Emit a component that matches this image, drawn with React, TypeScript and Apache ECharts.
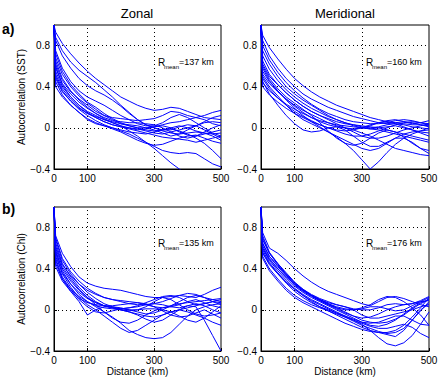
import React, { useEffect, useRef } from "react";
import * as echarts from "echarts";

const distanceKm = [0, 5, 25, 50, 75, 100, 125, 150, 175, 200, 225, 250, 275, 300, 325, 350, 375, 400, 425, 450, 475, 500];
const xTickLabels = [0, 100, 300, 500];
const yTickLabels = [-0.4, 0, 0.4, 0.8];
const panelTitles = ["Zonal", "Meridional"];
const rowLabels = ["a)", "b)"];
const yNames = ["Autocorrelation (SST)", "Autocorrelation (Chl)"];
const rMean = [137, 160, 135, 176];

const zonalSST = [
  [1, 0.93, 0.82, 0.72, 0.63, 0.55, 0.48, 0.42, 0.36, 0.30, 0.26, 0.22, 0.19, 0.17, 0.18, 0.20, 0.19, 0.16, 0.13, 0.10, 0.09, 0.08],
  [1, 0.88, 0.75, 0.64, 0.56, 0.50, 0.44, 0.37, 0.30, 0.22, 0.15, 0.08, 0.03, 0.00, -0.02, -0.02, 0.01, 0.03, 0.02, -0.02, -0.06, -0.10],
  [1, 0.72, 0.55, 0.42, 0.33, 0.25, 0.20, 0.14, 0.09, 0.05, 0.02, 0.00, -0.02, -0.03, -0.02, 0.00, 0.02, 0.00, -0.03, -0.05, -0.08, -0.12],
  [1, 0.65, 0.48, 0.36, 0.27, 0.20, 0.14, 0.09, 0.05, 0.02, 0.00, -0.02, -0.01, 0.01, 0.03, 0.05, 0.06, 0.08, 0.10, 0.12, 0.15, 0.17],
  [1, 0.60, 0.42, 0.30, 0.22, 0.15, 0.10, 0.06, 0.03, 0.01, 0.00, -0.01, -0.03, -0.05, -0.06, -0.04, -0.02, 0.00, 0.02, 0.05, 0.06, 0.05],
  [1, 0.55, 0.40, 0.30, 0.22, 0.16, 0.12, 0.08, 0.05, 0.02, -0.03, -0.08, -0.14, -0.20, -0.27, -0.34, -0.40, -0.46, -0.52, -0.58, -0.64, -0.70],
  [1, 0.50, 0.36, 0.26, 0.18, 0.12, 0.07, 0.03, 0.00, -0.02, -0.04, -0.05, -0.06, -0.04, -0.02, -0.01, -0.03, -0.06, -0.10, -0.15, -0.22, -0.30],
  [1, 0.45, 0.32, 0.22, 0.15, 0.09, 0.05, 0.02, -0.01, -0.04, -0.08, -0.12, -0.15, -0.17, -0.16, -0.13, -0.10, -0.08, -0.07, -0.10, -0.13, -0.15],
  [1, 0.40, 0.30, 0.22, 0.15, 0.08, 0.04, 0.02, 0.00, -0.03, -0.06, -0.10, -0.14, -0.18, -0.22, -0.24, -0.25, -0.24, -0.25, -0.30, -0.35, -0.38],
  [1, 0.68, 0.52, 0.40, 0.31, 0.24, 0.18, 0.12, 0.08, 0.04, 0.02, 0.00, 0.00, 0.01, 0.02, 0.00, -0.04, -0.07, -0.08, -0.06, -0.04, -0.02],
  [1, 0.62, 0.46, 0.35, 0.28, 0.22, 0.16, 0.12, 0.10, 0.09, 0.08, 0.07, 0.08, 0.09, 0.12, 0.16, 0.15, 0.12, 0.10, 0.08, 0.04, 0.02],
  [1, 0.75, 0.58, 0.45, 0.36, 0.30, 0.26, 0.22, 0.17, 0.12, 0.08, 0.04, 0.02, 0.02, 0.05, 0.10, 0.13, 0.10, 0.05, 0.00, -0.05, -0.08],
  [1, 0.58, 0.43, 0.33, 0.25, 0.19, 0.14, 0.10, 0.07, 0.06, 0.05, 0.05, 0.04, 0.03, 0.00, -0.04, -0.08, -0.10, -0.08, -0.04, 0.00, 0.03],
  [1, 0.52, 0.38, 0.28, 0.20, 0.14, 0.10, 0.06, 0.03, 0.01, -0.01, -0.03, -0.05, -0.07, -0.09, -0.10, -0.11, -0.12, -0.14, -0.12, -0.10, -0.08],
  [1, 0.85, 0.70, 0.58, 0.48, 0.41, 0.36, 0.32, 0.27, 0.21, 0.14, 0.08, 0.03, 0.00, -0.03, -0.05, -0.06, -0.05, -0.04, -0.05, -0.06, -0.05],
  [1, 0.48, 0.35, 0.26, 0.19, 0.14, 0.11, 0.08, 0.06, 0.04, 0.03, 0.02, 0.00, -0.02, -0.05, -0.08, -0.06, -0.02, 0.02, 0.06, 0.10, 0.12],
];

const meridionalSST = [
  [1, 0.90, 0.78, 0.67, 0.57, 0.48, 0.41, 0.35, 0.30, 0.26, 0.22, 0.19, 0.16, 0.13, 0.10, 0.08, 0.06, 0.05, 0.04, 0.03, 0.03, 0.02],
  [1, 0.85, 0.70, 0.58, 0.48, 0.40, 0.33, 0.28, 0.24, 0.20, 0.17, 0.14, 0.11, 0.09, 0.07, 0.05, 0.04, 0.05, 0.06, 0.05, 0.03, 0.01],
  [1, 0.62, 0.50, 0.42, 0.34, 0.27, 0.21, 0.16, 0.12, 0.09, 0.06, 0.04, 0.03, 0.02, 0.01, 0.00, -0.02, -0.04, -0.06, -0.08, -0.10, -0.12],
  [1, 0.55, 0.45, 0.36, 0.28, 0.21, 0.15, 0.10, 0.06, 0.03, 0.01, 0.00, -0.01, 0.00, 0.02, 0.05, 0.07, 0.08, 0.06, 0.04, 0.05, 0.07],
  [1, 0.50, 0.40, 0.31, 0.22, 0.14, 0.08, 0.04, 0.00, -0.04, -0.09, -0.15, -0.22, -0.31, -0.40, -0.33, -0.24, -0.16, -0.10, -0.06, -0.03, 0.00],
  [1, 0.45, 0.33, 0.22, 0.12, 0.04, -0.02, -0.04, -0.03, 0.00, 0.01, -0.02, -0.08, -0.14, -0.18, -0.18, -0.14, -0.10, -0.10, -0.14, -0.20, -0.25],
  [1, 0.70, 0.57, 0.46, 0.37, 0.30, 0.24, 0.19, 0.15, 0.11, 0.08, 0.05, 0.03, 0.01, 0.00, 0.01, 0.03, 0.04, 0.03, 0.01, 0.00, -0.01],
  [1, 0.60, 0.48, 0.38, 0.30, 0.24, 0.18, 0.12, 0.05, -0.03, -0.10, -0.15, -0.17, -0.15, -0.10, -0.05, -0.02, -0.04, -0.09, -0.15, -0.20, -0.22],
  [1, 0.40, 0.32, 0.25, 0.19, 0.14, 0.10, 0.06, 0.03, 0.00, -0.03, -0.06, -0.08, -0.08, -0.06, -0.03, 0.00, 0.03, 0.05, 0.06, 0.05, 0.04],
  [1, 0.75, 0.62, 0.50, 0.40, 0.33, 0.27, 0.22, 0.17, 0.12, 0.08, 0.05, 0.02, 0.00, -0.01, 0.00, 0.01, 0.02, 0.00, -0.02, -0.04, -0.05],
  [1, 0.52, 0.43, 0.35, 0.28, 0.22, 0.17, 0.13, 0.09, 0.05, 0.02, 0.00, -0.02, -0.05, -0.08, -0.12, -0.16, -0.20, -0.22, -0.24, -0.26, -0.27],
  [1, 0.65, 0.52, 0.42, 0.34, 0.27, 0.21, 0.16, 0.12, 0.08, 0.04, 0.00, -0.04, -0.08, -0.10, -0.10, -0.08, -0.05, -0.02, 0.00, 0.02, 0.04],
  [1, 0.48, 0.38, 0.29, 0.22, 0.16, 0.11, 0.07, 0.03, 0.00, -0.02, -0.03, -0.02, 0.00, 0.03, 0.05, 0.06, 0.04, 0.01, -0.02, -0.05, -0.08],
  [1, 0.80, 0.66, 0.54, 0.44, 0.36, 0.29, 0.23, 0.18, 0.14, 0.11, 0.08, 0.06, 0.05, 0.04, 0.04, 0.05, 0.07, 0.08, 0.07, 0.05, 0.03],
  [1, 0.58, 0.46, 0.36, 0.27, 0.19, 0.12, 0.06, 0.01, -0.04, -0.08, -0.12, -0.16, -0.20, -0.22, -0.20, -0.15, -0.10, -0.06, -0.04, -0.03, -0.02],
  [1, 0.44, 0.36, 0.29, 0.23, 0.18, 0.14, 0.10, 0.07, 0.05, 0.03, 0.02, 0.01, 0.00, -0.01, -0.02, -0.04, -0.06, -0.08, -0.10, -0.12, -0.14],
];

const zonalChl = [
  [1, 0.72, 0.55, 0.42, 0.32, 0.26, 0.23, 0.21, 0.20, 0.19, 0.17, 0.15, 0.13, 0.12, 0.12, 0.13, 0.14, 0.13, 0.12, 0.15, 0.19, 0.22],
  [1, 0.65, 0.45, 0.32, 0.22, 0.14, 0.08, 0.04, 0.02, 0.01, 0.02, 0.04, 0.07, 0.10, 0.13, 0.14, 0.12, 0.08, 0.05, 0.06, 0.08, 0.07],
  [1, 0.58, 0.38, 0.25, 0.15, 0.08, 0.03, -0.02, -0.07, -0.13, -0.20, -0.24, -0.27, -0.28, -0.27, -0.22, -0.14, -0.06, 0.00, 0.03, 0.05, 0.06],
  [1, 0.55, 0.35, 0.22, 0.12, 0.05, 0.00, -0.06, -0.12, -0.18, -0.22, -0.20, -0.15, -0.10, -0.05, -0.02, 0.00, 0.02, 0.04, 0.06, 0.08, 0.10],
  [1, 0.50, 0.32, 0.20, 0.10, 0.03, -0.02, -0.03, -0.01, 0.01, 0.02, 0.03, 0.05, 0.06, 0.05, 0.03, 0.02, 0.04, 0.03, -0.10, -0.25, -0.40],
  [1, 0.48, 0.30, 0.18, 0.08, -0.05, 0.00, 0.03, 0.03, 0.02, 0.00, -0.02, -0.04, -0.03, 0.00, 0.04, 0.08, 0.12, 0.14, 0.12, 0.08, 0.05],
  [1, 0.62, 0.44, 0.33, 0.25, 0.19, 0.15, 0.12, 0.10, 0.08, 0.06, 0.05, 0.05, 0.06, 0.08, 0.11, 0.14, 0.16, 0.15, 0.12, 0.10, 0.08],
  [1, 0.60, 0.42, 0.30, 0.20, 0.12, 0.07, 0.04, 0.02, 0.00, -0.02, -0.05, -0.09, -0.12, -0.10, -0.05, 0.00, 0.04, 0.06, 0.04, 0.00, -0.03],
  [1, 0.45, 0.30, 0.20, 0.13, 0.08, 0.04, 0.02, 0.01, 0.00, -0.02, -0.04, -0.06, -0.07, -0.05, -0.02, 0.00, -0.02, -0.05, -0.08, -0.12, -0.15],
  [1, 0.70, 0.50, 0.37, 0.28, 0.21, 0.16, 0.12, 0.10, 0.09, 0.08, 0.07, 0.05, 0.03, 0.02, 0.03, 0.05, 0.08, 0.10, 0.07, 0.04, 0.02],
  [1, 0.52, 0.36, 0.25, 0.17, 0.11, 0.07, 0.04, 0.02, 0.00, -0.01, 0.00, 0.03, 0.08, 0.12, 0.10, 0.05, 0.00, -0.04, -0.06, -0.05, -0.03],
  [1, 0.68, 0.48, 0.35, 0.25, 0.17, 0.11, 0.06, 0.03, 0.01, 0.00, 0.00, 0.01, 0.01, 0.00, -0.02, -0.06, -0.10, -0.12, -0.08, -0.02, 0.04],
  [1, 0.56, 0.40, 0.28, 0.19, 0.12, 0.05, -0.02, -0.08, -0.12, -0.13, -0.10, -0.05, -0.01, 0.02, 0.04, 0.06, 0.07, 0.08, 0.09, 0.10, 0.11],
  [1, 0.42, 0.28, 0.18, 0.11, 0.07, 0.05, 0.04, 0.04, 0.05, 0.06, 0.07, 0.06, 0.03, -0.01, -0.05, -0.07, -0.06, -0.03, 0.00, -0.04, -0.08],
];

const meridionalChl = [
  [1, 0.75, 0.60, 0.55, 0.48, 0.40, 0.33, 0.27, 0.22, 0.18, 0.15, 0.12, 0.09, 0.06, 0.04, 0.08, 0.12, 0.13, 0.11, 0.08, 0.05, 0.03],
  [1, 0.65, 0.52, 0.43, 0.34, 0.26, 0.20, 0.15, 0.11, 0.08, 0.05, 0.03, 0.01, 0.00, 0.00, 0.02, 0.05, 0.06, 0.05, 0.06, 0.09, 0.13],
  [1, 0.60, 0.48, 0.38, 0.29, 0.21, 0.15, 0.10, 0.06, 0.02, -0.02, -0.06, -0.10, -0.14, -0.20, -0.27, -0.33, -0.35, -0.32, -0.25, -0.14, -0.02],
  [1, 0.55, 0.44, 0.35, 0.27, 0.20, 0.14, 0.09, 0.05, 0.01, -0.03, -0.07, -0.11, -0.15, -0.18, -0.21, -0.23, -0.22, -0.18, -0.10, -0.01, 0.08],
  [1, 0.70, 0.55, 0.44, 0.34, 0.24, 0.18, 0.13, 0.09, 0.05, 0.02, 0.00, 0.00, 0.02, 0.05, 0.10, 0.13, 0.12, 0.08, 0.02, -0.05, -0.15],
  [1, 0.52, 0.40, 0.30, 0.21, 0.14, 0.09, 0.05, 0.02, -0.01, -0.04, -0.07, -0.10, -0.13, -0.16, -0.18, -0.18, -0.16, -0.14, -0.17, -0.23, -0.27],
  [1, 0.62, 0.50, 0.40, 0.31, 0.23, 0.17, 0.12, 0.08, 0.04, 0.00, -0.04, -0.08, -0.12, -0.15, -0.16, -0.14, -0.10, -0.04, 0.02, 0.07, 0.10],
  [1, 0.68, 0.55, 0.45, 0.36, 0.27, 0.20, 0.14, 0.10, 0.06, 0.03, 0.01, 0.00, 0.01, 0.03, 0.03, 0.01, -0.01, 0.00, 0.04, 0.08, 0.12],
  [1, 0.58, 0.46, 0.36, 0.27, 0.20, 0.14, 0.08, 0.03, -0.01, -0.05, -0.09, -0.13, -0.17, -0.20, -0.22, -0.24, -0.26, -0.20, -0.10, 0.00, 0.06],
  [1, 0.72, 0.56, 0.45, 0.35, 0.26, 0.19, 0.14, 0.10, 0.07, 0.05, 0.03, 0.00, -0.05, -0.08, -0.08, -0.06, -0.04, -0.02, 0.00, 0.03, 0.05],
  [1, 0.56, 0.45, 0.35, 0.26, 0.18, 0.12, 0.07, 0.03, 0.00, -0.03, -0.06, -0.09, -0.12, -0.13, -0.12, -0.09, -0.06, -0.06, -0.10, -0.14, -0.15],
  [1, 0.64, 0.52, 0.42, 0.33, 0.25, 0.19, 0.14, 0.10, 0.06, 0.02, -0.02, -0.06, -0.10, -0.12, -0.13, -0.12, -0.09, -0.05, 0.01, 0.06, 0.10],
  [1, 0.50, 0.38, 0.28, 0.19, 0.12, 0.07, 0.03, -0.01, -0.05, -0.09, -0.13, -0.16, -0.19, -0.21, -0.22, -0.22, -0.20, -0.15, -0.07, 0.02, 0.12],
  [1, 0.60, 0.49, 0.40, 0.32, 0.25, 0.19, 0.14, 0.09, 0.05, 0.01, -0.03, -0.06, -0.08, -0.07, -0.04, 0.00, 0.03, 0.05, 0.06, 0.08, 0.09],
];

const FONT = "'Liberation Sans', Arial, Helvetica, sans-serif";

export default function App() {
  const ref = useRef<HTMLDivElement>(null);
  useEffect(() => {
    if (!ref.current) return;
    const chart = echarts.init(ref.current, undefined, { renderer: "svg" });
    const panels = [zonalSST, meridionalSST, zonalChl, meridionalChl];
    const gridPos = [
      { left: 54, top: 25, width: 167, height: 144 },
      { left: 261, top: 25, width: 168, height: 144 },
      { left: 54, top: 207, width: 167, height: 144 },
      { left: 261, top: 207, width: 168, height: 144 },
    ];
    const grids = gridPos.map((g) => ({
      ...g,
      show: true,
      borderColor: "#000",
      borderWidth: 1,
      backgroundColor: "#fff",
      containLabel: false,
    }));
    const xAxes = gridPos.map((_, i) => ({
      type: "value",
      gridIndex: i,
      min: 0,
      max: 500,
      interval: 100,
      name: i >= 2 ? "Distance (km)" : "",
      nameLocation: "middle",
      nameGap: 15,
      nameTextStyle: { fontFamily: FONT, fontSize: 10, color: "#000" },
      axisLine: { show: true, onZero: false, lineStyle: { color: "#000", width: 1 } },
      axisTick: { show: true, inside: true, length: 3, customValues: xTickLabels, lineStyle: { color: "#000" } },
      axisLabel: {
        customValues: xTickLabels,
        formatter: (v: number) => (xTickLabels.includes(v) ? String(v) : ""),
        fontFamily: FONT,
        fontSize: 10,
        color: "#000",
        margin: 4,
      },
      splitLine: { show: false },
    }));
    const yAxes = gridPos.map((_, i) => ({
      type: "value",
      gridIndex: i,
      min: -0.4,
      max: 1.0,
      interval: 0.4,
      name: i % 2 === 0 ? yNames[i >> 1] : "",
      nameLocation: "middle",
      nameGap: 23,
      nameTextStyle: { fontFamily: FONT, fontSize: 10, color: "#000" },
      axisLine: { show: true, onZero: false, lineStyle: { color: "#000", width: 1 } },
      axisTick: { show: true, inside: true, length: 3, customValues: yTickLabels, lineStyle: { color: "#000" } },
      axisLabel: {
        customValues: yTickLabels,
        formatter: (v: number) => {
          if (v > 0.95) return "";
          if (Math.abs(v) < 1e-9) return "0";
          return v < 0 ? "\u2212" + Math.abs(v).toFixed(1) : v.toFixed(1);
        },
        fontFamily: FONT,
        fontSize: 10,
        color: "#000",
        margin: 4,
      },
      splitLine: { show: true, lineStyle: { color: "#000", type: [1, 3], width: 1 } },
    }));
    const series: any[] = [];
    panels.forEach((lines, p) => {
      lines.forEach((vals, k) => {
        series.push({
          type: "line",
          xAxisIndex: p,
          yAxisIndex: p,
          data: vals.map((v, j) => [distanceKm[j], v]),
          showSymbol: false,
          symbol: "none",
          clip: true,
          silent: true,
          lineStyle: { color: "#0000ff", width: 1 },
          z: 3,
          markLine:
            k === 0
              ? {
                  silent: true,
                  symbol: "none",
                  label: { show: false },
                  lineStyle: { color: "#000", type: [1, 3], width: 1 },
                  data: [{ xAxis: 100 }, { xAxis: 300 }],
                  z: 1,
                }
              : undefined,
        });
      });
    });
    const rPos = [
      [158, 62],
      [366, 62],
      [158, 243],
      [366, 243],
    ];
    const graphic: any[] = [
      { type: "text", x: 137, y: 13, style: { text: panelTitles[0], font: `13px ${FONT}`, fill: "#000", textAlign: "center", textVerticalAlign: "middle" } },
      { type: "text", x: 345, y: 13, style: { text: panelTitles[1], font: `13px ${FONT}`, fill: "#000", textAlign: "center", textVerticalAlign: "middle" } },
      { type: "text", x: 2, y: 29, style: { text: rowLabels[0], font: `bold 14px ${FONT}`, fill: "#000", textAlign: "left", textVerticalAlign: "middle" } },
      { type: "text", x: 2, y: 209, style: { text: rowLabels[1], font: `bold 14px ${FONT}`, fill: "#000", textAlign: "left", textVerticalAlign: "middle" } },
    ];
    rPos.forEach(([x, y], i) => {
      graphic.push({ type: "text", x, y, z: 10, style: { text: "R", font: `10px ${FONT}`, fill: "#000", textAlign: "left", textVerticalAlign: "middle" } });
      graphic.push({ type: "text", x: x + 6, y: y + 5, z: 10, style: { text: "mean", font: `6px ${FONT}`, fill: "#000", textAlign: "left", textVerticalAlign: "middle" } });
      graphic.push({ type: "text", x: x + 21, y, z: 10, style: { text: `=${rMean[i]} km`, font: `9px ${FONT}`, fill: "#000", textAlign: "left", textVerticalAlign: "middle" } });
    });
    chart.setOption({
      animation: false,
      backgroundColor: "#fff",
      grid: grids,
      xAxis: xAxes,
      yAxis: yAxes,
      series,
      graphic,
    });
    return () => chart.dispose();
  }, []);
  return <div ref={ref} style={{ position: "fixed", left: 0, top: 0, width: 441, height: 378 }} />;
}
